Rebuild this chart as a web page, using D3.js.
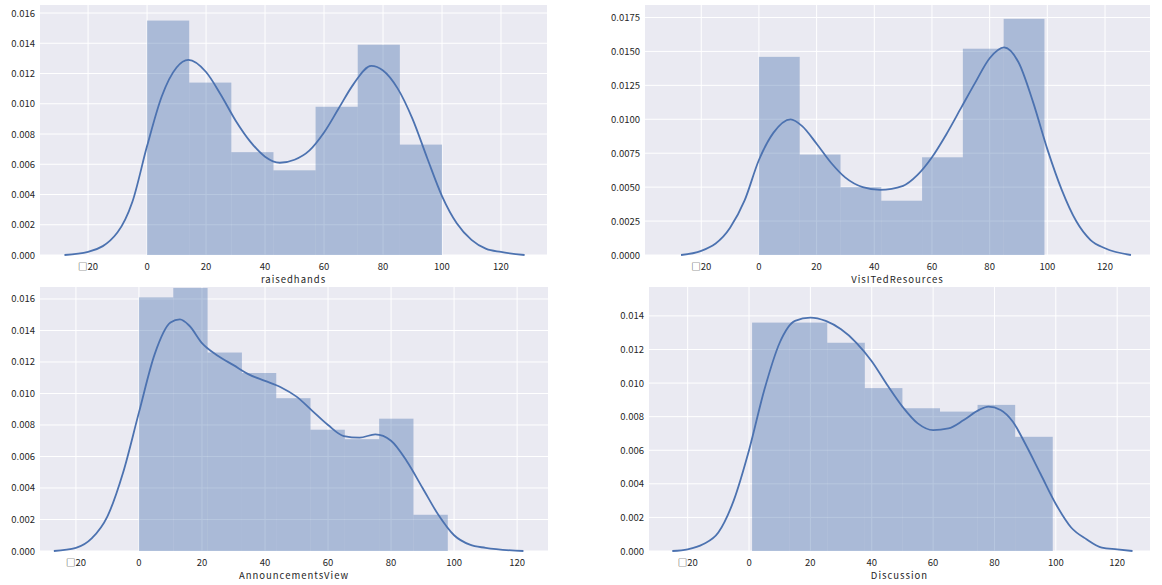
<!DOCTYPE html>
<html><head><meta charset="utf-8">
<script src="https://cdn.jsdelivr.net/npm/d3@7"></script>
<style>
body{margin:0;background:#fff;}
text{font-family:"Noto Sans CJK SC","DejaVu Sans",sans-serif;font-size:9.5px;fill:#262626;}
</style></head><body>
<svg id="chart" width="1162" height="585"></svg>
<script>
// histogram bins (edges) and heights, per panel
const rhEdges = [0, 14.29, 28.57, 42.86, 57.14, 71.43, 85.71, 100];
const rhHeights = [0.0155, 0.0114, 0.0068, 0.0056, 0.0098, 0.0139, 0.0073];
const rhKde = [[-28,0],[-20,0.0002],[-10,0.0015],[-5,0.0035],[0,0.0072],[5,0.0105],[10,0.0124],[14,0.0129],[20,0.0121],[25,0.0106],[30,0.0089],[35,0.0075],[40,0.0065],[45,0.0061],[50,0.0063],[55,0.0069],[60,0.0081],[65,0.0097],[70,0.0113],[76,0.0125],[80,0.0122],[85,0.0110],[90,0.0090],[95,0.0064],[100,0.0039],[105,0.0021],[110,0.0010],[115,0.0004],[120,0.0002],[128,0]];

const vrEdges = [0, 14.14, 28.29, 42.43, 56.57, 70.71, 84.86, 99];
const vrHeights = [0.0146, 0.0074, 0.0050, 0.0040, 0.0072, 0.0152, 0.0174];
const vrKde = [[-27,0],[-20,0.0003],[-10,0.0020],[-5,0.0040],[0,0.0070],[5,0.0090],[11,0.0100],[15,0.0095],[20,0.0082],[25,0.0068],[30,0.0057],[36,0.0050],[42,0.0048],[50,0.0051],[55,0.0059],[60,0.0072],[65,0.0089],[70,0.0108],[75,0.0127],[80,0.0145],[85,0.0153],[90,0.0142],[95,0.0113],[100,0.0078],[105,0.0048],[110,0.0025],[115,0.0011],[120,0.0005],[129,0]];

const avEdges = [0, 10.89, 21.78, 32.67, 43.56, 54.44, 65.33, 76.22, 87.11, 98];
const avHeights = [0.0161, 0.0167, 0.0126, 0.0113, 0.0097, 0.0077, 0.0071, 0.0084, 0.0023];
const avKde = [[-27,0],[-20,0.0002],[-15,0.0008],[-10,0.0022],[-5,0.0050],[0,0.0088],[5,0.0125],[10,0.0145],[13,0.0147],[16,0.0143],[20,0.0132],[25,0.0124],[30,0.0118],[35,0.0112],[40,0.0108],[45,0.0104],[50,0.0098],[55,0.0089],[60,0.0080],[65,0.0073],[70,0.0072],[75,0.0074],[80,0.0070],[85,0.0057],[90,0.0040],[95,0.0023],[100,0.0010],[105,0.0004],[110,0.0002],[122,0]];

const dsEdges = [1, 13.25, 25.5, 37.75, 50, 62.25, 74.5, 86.75, 99];
const dsHeights = [0.0136, 0.0136, 0.0124, 0.0097, 0.0085, 0.0083, 0.0087, 0.0068];
const dsKde = [[-25,0],[-20,0.0001],[-15,0.0004],[-10,0.0011],[-5,0.0030],[0,0.0060],[5,0.0096],[10,0.0124],[15,0.0137],[20,0.0139],[25,0.0137],[30,0.0132],[35,0.0124],[40,0.0113],[45,0.0099],[50,0.0086],[55,0.0076],[60,0.0072],[65,0.0073],[70,0.0078],[75,0.0084],[78,0.0086],[82,0.0084],[86,0.0077],[90,0.0064],[95,0.0046],[100,0.0028],[105,0.0014],[110,0.0007],[115,0.0002],[120,0.0001],[125,0]];

const xTicks = [-20, 0, 20, 40, 60, 80, 100, 120];

const panels = [
  {left:40, right:547, top:5, bottom:255, xdom:[-36.3,135.6], ydom:[0,0.01653], yt:d3.range(0,0.0161,0.002), fmt:d3.format(".3f"), label:"raisedhands", edges:rhEdges, h:rhHeights, kde:rhKde},
  {left:645, right:1150, top:5, bottom:255, xdom:[-39.5,135.6], ydom:[0,0.01842], yt:d3.range(0,0.0176,0.0025), fmt:d3.format(".4f"), label:"VisITedResources", edges:vrEdges, h:vrHeights, kde:vrKde},
  {left:40, right:548, top:287, bottom:551, xdom:[-31.4,129.8], ydom:[0,0.01676], yt:d3.range(0,0.0161,0.002), fmt:d3.format(".3f"), label:"AnnouncementsView", edges:avEdges, h:avHeights, kde:avKde},
  {left:649, right:1150, top:287, bottom:551, xdom:[-32.6,130.7], ydom:[0,0.01572], yt:d3.range(0,0.0141,0.002), fmt:d3.format(".3f"), label:"Discussion", edges:dsEdges, h:dsHeights, kde:dsKde}
];

const svg = d3.select("#chart");

panels.forEach(function(p){
  let x = d3.scaleLinear().domain(p.xdom).range([p.left, p.right]);
  let y = d3.scaleLinear().domain(p.ydom).range([p.bottom, p.top]);
  let g = svg.append("g");

  g.append("rect").attr("x", p.left).attr("y", p.top)
    .attr("width", p.right - p.left).attr("height", p.bottom - p.top).attr("fill", "#eaeaf2");

  // grid
  g.selectAll(".gx").data(xTicks).enter().append("line")
    .attr("x1", d => x(d)).attr("x2", d => x(d)).attr("y1", p.top).attr("y2", p.bottom)
    .attr("stroke", "#fff").attr("stroke-width", 1);
  g.selectAll(".gy").data(p.yt).enter().append("line")
    .attr("x1", p.left).attr("x2", p.right).attr("y1", d => y(d)).attr("y2", d => y(d))
    .attr("stroke", "#fff").attr("stroke-width", 1);

  // histogram bars
  g.selectAll(".bar").data(p.h).enter().append("rect")
    .attr("x", (d, i) => x(p.edges[i]))
    .attr("width", (d, i) => x(p.edges[i+1]) - x(p.edges[i]))
    .attr("y", d => y(d)).attr("height", d => p.bottom - y(d))
    .attr("fill", "#4c72b0").attr("fill-opacity", 0.4);

  // kde
  g.append("path").datum(p.kde)
    .attr("d", d3.line().x(d => x(d[0])).y(d => y(d[1])).curve(d3.curveMonotoneX))
    .attr("fill", "none").attr("stroke", "#4c72b0").attr("stroke-width", 1.8);

  // tick labels
  g.selectAll(".xl").data(xTicks).enter().append("text")
    .attr("x", d => x(d)).attr("y", p.bottom + 15).attr("text-anchor", "middle")
    .text(d => d < 0 ? "\u25A1" + Math.abs(d) : d);
  g.selectAll(".yl").data(p.yt).enter().append("text")
    .attr("x", p.left - 5).attr("y", d => y(d) + 3.5).attr("text-anchor", "end")
    .text(d => p.fmt(d));
  g.append("text").attr("x", (p.left + p.right) / 2).attr("y", p.bottom + 28)
    .attr("text-anchor", "middle").attr("letter-spacing", "1px").text(p.label);
});
</script>
</body></html>
